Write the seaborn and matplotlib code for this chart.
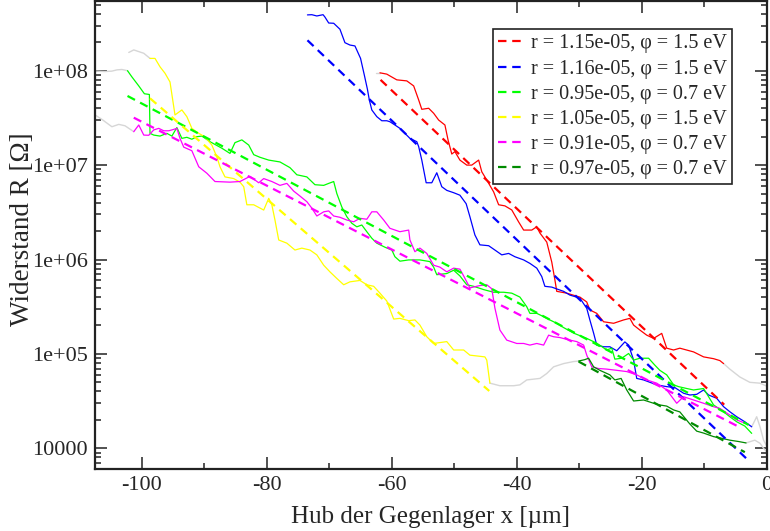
import numpy as np
import pandas as pd
import matplotlib
matplotlib.use("Agg")
import matplotlib.pyplot as plt
import seaborn as sns
from matplotlib.ticker import FixedLocator, FixedFormatter, LogLocator, NullFormatter, MultipleLocator

# ---------------- data (x in µm, R in Ohm) ----------------
red_x = [-61.9, -60.8, -60.3, -59.2, -57.6, -56.5, -55.7, -55.2, -54.1, -53.3, -52.5, -51.5, -51.0, -50.4,
         -49.9, -49.1, -48.0, -47.2, -46.1, -45.6, -44.8, -43.7, -42.9, -41.9, -40.8, -39.7, -38.9, -37.6,
         -36.8, -36.3, -35.2, -34.4, -33.9, -33.6, -32.0, -31.0, -29.9, -28.8, -28.3, -27.2, -26.1, -24.5,
         -22.9, -21.9, -21.3, -20.3, -19.2, -18.1, -16.8, -16.0, -14.9, -13.9, -11.7, -10.1, -8.5, -7.5, -6.9]
red_R = [9.5e7, 9.2e7, 8.8e7, 8.0e7, 7.8e7, 6.9e7, 4.9e7, 3.9e7, 4.0e7, 3.54e7, 3.0e7, 2.66e7, 1.85e7, 1.31e7,
         1.39e7, 1.13e7, 1.0e7, 1.0e7, 1.13e7, 8.5e6, 6.95e6, 5.2e6, 3.8e6, 3.7e6, 3.35e6, 2.5e6, 2.05e6, 2.05e6,
         2.22e6, 1.91e6, 1.53e6, 9.4e5, 6.1e5, 4.6e5, 4.4e5, 4.2e5, 4.0e5, 3.55e5, 2.92e5, 2.69e5, 2.19e5, 2.11e5,
         2.29e5, 2.38e5, 2.02e5, 1.79e5, 1.58e5, 1.46e5, 1.65e5, 1.15e5, 1.1e5, 1.15e5, 1.05e5, 9.3e4, 8.9e4, 8.5e4, 7.9e4]

blue_x = [-73.5, -72.8, -72.0, -71.0, -70.7, -70.1, -69.3, -68.3, -67.5, -66.7, -65.9, -65.0, -64.4, -63.9,
          -63.6, -63.2, -62.4, -61.6, -60.8, -60.3, -59.5, -58.7, -57.9, -57.1, -56.0, -55.7, -55.2, -54.5,
          -53.6, -52.8, -52.0, -51.2, -50.1, -49.1, -48.1, -47.5, -46.7, -45.9, -44.5, -43.5, -42.4, -41.3,
          -40.3, -38.9, -37.9, -36.8, -36.0, -35.5, -34.4, -33.3, -32.5, -31.5, -29.9, -28.8, -28.3, -27.7,
          -27.2, -26.1, -25.1, -24.0, -22.7, -22.1, -21.3, -20.8, -19.7, -17.6, -16.0, -14.7, -13.3, -12.3,
          -11.2, -10.1, -9.3, -8.0, -6.9, -5.9, -4.8, -3.5, -2.4]
blue_R = [3.9e8, 3.92e8, 3.8e8, 3.92e8, 3.7e8, 3.2e8, 3.18e8, 2.75e8, 1.98e8, 1.87e8, 1.83e8, 1.35e8, 9.0e7, 6.35e7,
          4.9e7, 3.84e7, 3.26e7, 2.95e7, 2.95e7, 2.88e7, 2.66e7, 2.45e7, 2.17e7, 1.92e7, 1.77e7, 1.57e7, 1.13e7, 6.5e6,
          6.5e6, 8.3e6, 5.9e6, 5.4e6, 5.1e6, 4.8e6, 3.9e6, 2.84e6, 1.82e6, 1.43e6, 1.4e6, 1.26e6, 1.12e6, 1.16e6,
          1.07e6, 9.9e5, 9.1e5, 8.1e5, 6.6e5, 5.2e5, 5.1e5, 4.8e5, 4.6e5, 4.2e5, 3.9e5, 3.04e5, 2.29e5, 1.66e5,
          1.24e5, 1.19e5, 1.19e5, 1.08e5, 1.34e5, 1.24e5, 8.6e4, 5.5e4, 5.3e4, 4.7e4, 4.5e4, 4.4e4, 3.83e4, 3.67e4,
          3.73e4, 4.15e4, 3.67e4, 3.39e4, 2.76e4, 2.44e4, 2.16e4, 1.91e4, 1.69e4]

green_x = [-102.3, -101.6, -100.5, -99.6, -98.8, -98.7, -98.1, -97.1, -96.0, -95.2, -94.4, -93.6, -92.8, -92.0,
           -91.2, -90.4, -89.1, -87.2, -85.9, -85.1, -84.0, -82.9, -82.1, -81.1, -79.7, -77.9, -76.3, -75.2,
           -73.6, -72.3, -70.9, -70.1, -69.3, -68.8, -68.0, -67.2, -66.4, -65.6, -64.8, -64.0, -63.2, -62.4,
           -61.1, -60.0, -59.5, -58.7, -57.3, -55.5, -53.9, -53.3, -52.8, -51.2, -50.1, -49.1, -48.0, -46.9,
           -45.3, -43.7, -42.1, -40.8, -39.5, -38.4, -37.9, -36.8, -35.7, -34.7, -33.6, -32.5, -30.9, -28.8,
           -27.2, -25.6, -24.8, -24.3, -23.2, -22.1, -21.3, -20.3, -18.9, -17.9, -17.1, -16.0, -14.9, -14.1,
           -12.8, -11.7, -10.1, -9.3, -8.5, -7.7, -6.9, -5.9, -4.8, -3.5, -2.4]
green_R = [1.0e8, 8.6e7, 6.9e7, 5.7e7, 5.6e7, 2.17e7, 2.08e7, 2.03e7, 2.17e7, 2.03e7, 2.5e7, 1.92e7, 1.97e7, 1.88e7,
           2.0e7, 2.03e7, 1.77e7, 1.51e7, 1.33e7, 1.73e7, 1.85e7, 1.63e7, 1.29e7, 1.21e7, 1.13e7, 1.08e7, 9.4e6, 7.9e6,
           7.5e6, 6.2e6, 6.1e6, 6.4e6, 6.7e6, 5.0e6, 3.6e6, 2.84e6, 2.42e6, 2.22e6, 2.32e6, 1.97e6, 1.68e6, 1.49e6,
           1.35e6, 1.26e6, 1.07e6, 9.6e5, 9.9e5, 9.9e5, 9.5e5, 8.3e5, 6.9e5, 7.1e5, 7.7e5, 6.7e5, 5.4e5, 5.2e5,
           4.8e5, 4.5e5, 4.5e5, 4.4e5, 4.0e5, 3.16e5, 2.69e5, 2.69e5, 2.48e5, 2.29e5, 2.11e5, 1.9e5, 1.66e5, 1.46e5,
           1.3e5, 1.1e5, 1.15e5, 8.8e4, 9.0e4, 1.01e5, 8.6e4, 9.0e4, 9.0e4, 7.6e4, 6.7e4, 6.0e4, 4.7e4, 4.5e4,
           4.3e4, 4.15e4, 4.3e4, 3.52e4, 2.88e4, 2.65e4, 2.44e4, 2.16e4, 1.91e4, 1.72e4, 1.44e4]

yellow_x = [-98.7, -97.9, -97.1, -96.3, -95.5, -94.7, -93.6, -92.8, -92.0, -90.9, -89.9, -88.8, -88.0, -87.5,
            -86.7, -85.3, -84.3, -83.7, -83.2, -82.1, -80.5, -79.7, -79.2, -78.7, -78.1, -76.8, -75.5, -74.4,
            -73.1, -72.0, -70.9, -69.9, -68.8, -67.7, -66.7, -65.1, -64.0, -62.9, -61.9, -60.8, -59.7, -58.7,
            -57.3, -56.3, -55.5, -54.4, -53.3, -51.2, -50.1, -48.5, -47.5, -45.1, -44.8, -44.3]
yellow_R = [1.35e8, 1.35e8, 1.1e8, 9.4e7, 7.6e7, 3.4e7, 3.84e7, 3.26e7, 2.45e7, 2.17e7, 1.99e7, 1.63e7, 1.22e7, 9.6e6,
            7.5e6, 7.2e6, 6.6e6, 5.9e6, 3.8e6, 3.8e6, 3.34e6, 4.45e6, 3.8e6, 2.62e6, 1.61e6, 1.49e6, 1.26e6, 1.32e6,
            1.26e6, 1.12e6, 8.7e5, 7.4e5, 6.3e5, 5.4e5, 5.8e5, 6.0e5, 5.4e5, 5.2e5, 4.4e5, 3.63e5, 2.34e5, 2.38e5,
            2.25e5, 2.29e5, 2.02e5, 1.52e5, 1.29e5, 1.35e5, 1.1e5, 1.1e5, 9.7e4, 9.3e4, 8.6e4, 4.9e4]

magenta_x = [-101.3, -100.5, -99.7, -98.9, -98.1, -97.3, -96.5, -95.7, -94.9, -94.4, -93.9, -93.3, -92.0, -90.9,
             -89.6, -88.3, -85.9, -84.3, -82.7, -81.3, -80.5, -79.2, -77.9, -76.8, -75.7, -74.7, -73.6, -72.8,
             -72.0, -70.9, -70.1, -69.3, -68.3, -67.2, -66.1, -65.1, -64.0, -63.2, -62.4, -61.3, -60.3, -58.7,
             -57.3, -57.1, -56.3, -55.5, -54.4, -53.3, -52.3, -51.2, -50.1, -49.1, -48.5, -47.5, -45.9, -44.8,
             -44.0, -43.5, -42.7, -41.6, -40.0, -38.9, -37.9, -36.8, -35.7, -34.9, -34.1, -33.1, -31.5, -30.4,
             -29.3, -28.8, -28.0, -26.9, -25.6, -24.0, -22.4, -20.8, -19.2, -17.6, -16.0, -14.4, -13.3, -11.7,
             -10.1, -8.5, -7.5, -5.9, -4.8, -3.5]
magenta_R = [2.26e7, 2.66e7, 2.08e7, 2.07e7, 2.36e7, 2.45e7, 2.31e7, 2.31e7, 2.39e7, 2.45e7, 1.92e7, 1.55e7, 1.42e7, 9.6e6,
             8.2e6, 6.7e6, 6.6e6, 6.7e6, 7.6e6, 6.5e6, 7.2e6, 6.7e6, 6.1e6, 6.4e6, 5.3e6, 4.7e6, 4.1e6, 3.5e6,
             2.89e6, 3.2e6, 3.27e6, 2.89e6, 2.8e6, 2.62e6, 2.51e6, 2.73e6, 2.67e6, 3.2e6, 3.2e6, 2.62e6, 2.14e6, 1.97e6,
             2.05e6, 1.61e6, 1.21e6, 1.32e6, 1.16e6, 8.7e5, 8.3e5, 7.4e5, 8.1e5, 7.9e5, 6.7e5, 5.0e5, 5.3e5, 5.4e5,
             4.9e5, 3.06e5, 1.79e5, 1.4e5, 1.29e5, 1.29e5, 1.24e5, 1.29e5, 1.24e5, 1.58e5, 1.52e5, 1.49e5, 1.4e5, 1.35e5,
             1.24e5, 9.7e4, 7.3e4, 7.0e4, 6.9e4, 6.7e4, 6.5e4, 6.0e4, 5.3e4, 4.9e4, 4.15e4, 3.0e4, 3.52e4, 3.25e4,
             3.0e4, 2.76e4, 2.65e4, 2.25e4, 2.0e4, 1.85e4]

dkgreen_x = [-30.1, -29.1, -28.5, -27.7, -26.7, -25.1, -24.3, -23.3, -22.4, -21.3, -19.7, -18.1, -17.1, -16.0,
             -14.9, -13.9, -12.3, -11.2, -10.1, -8.5, -7.5, -5.9, -4.5, -3.3]
dkgreen_R = [8.4e4, 8.7e4, 9.0e4, 7.3e4, 6.7e4, 6.0e4, 5.3e4, 5.5e4, 4.15e4, 3.17e4, 3.25e4, 3.0e4, 2.88e4, 2.8e4,
             2.55e4, 2.43e4, 1.81e4, 1.52e4, 1.45e4, 1.33e4, 1.29e4, 1.22e4, 1.18e4, 1.14e4]

# grey (unfitted) parts of the measurements
grey_segments_x = [
    [-107.5, -105.9, -104.8, -104.0, -103.2, -102.3],
    [-102.1, -101.3, -99.7, -98.7],
    [-107.5, -106.4, -104.8, -103.7, -102.7, -101.3],
    [-62.5, -61.9],
    [-44.3, -42.7, -40.5, -39.5, -38.4, -36.3, -35.2, -34.1, -32.5, -30.9, -30.1],
    [-6.9, -5.9, -4.3, -2.7, -1.1, 0.2],
    [-2.4, -1.6, -1.07, -0.5, 0.0],
    [-3.3, -1.9, -1.07, -0.5, 0.05],
]
grey_segments_R = [
    [9.9e7, 9.8e7, 9.9e7, 1.02e8, 1.03e8, 1.0e8],
    [1.56e8, 1.66e8, 1.53e8, 1.35e8],
    [3.4e7, 3.05e7, 2.55e7, 2.7e7, 2.61e7, 2.26e7],
    [9.5e7, 9.5e7],
    [4.9e4, 4.6e4, 4.6e4, 4.7e4, 5.3e4, 5.5e4, 6.2e4, 7.3e4, 7.9e4, 8.3e4, 8.4e4],
    [7.9e4, 6.9e4, 5.7e4, 5.0e4, 4.9e4, 4.5e4],
    [1.69e4, 2.16e4, 1.69e4, 1.22e4, 1.06e4],
    [1.14e4, 1.22e4, 1.13e4, 1.0e4, 9.1e3],
]

# exponential fits (straight on log axis): start and end
fit_labels = ["r = 1.15e-05, φ = 1.5 eV", "r = 1.16e-05, φ = 1.5 eV", "r = 0.95e-05, φ = 0.7 eV",
              "r = 1.05e-05, φ = 1.5 eV", "r = 0.91e-05, φ = 0.7 eV", "r = 0.97e-05, φ = 0.7 eV"]
fit_x = [[-61.8, -6.8], [-73.5, -2.7], [-102.3, -2.9], [-98.7, -44.4], [-101.3, -4.0], [-30.1, -3.5]]
fit_R = [[8.0e7, 2.9e4], [2.1e8, 7.2e3], [5.4e7, 1.77e4], [5.1e7, 4.05e4], [3.18e7, 1.63e4], [8.3e4, 9.1e3]]

colors = ["#ff0000", "#0000ff", "#00ff00", "#ffff00", "#ff00ff", "#008b00"]
grey = "#d6d6d6"

xticks = [-100, -80, -60, -40, -20, 0]
xtick_labels = ["-100", "-80", "-60", "-40", "-20", "0"]
yticks = [1e4, 1e5, 1e6, 1e7, 1e8]
ytick_labels = ["10000", "1e+05", "1e+06", "1e+07", "1e+08"]

# ---------------- style ----------------
sns.set_style("ticks")
plt.rcParams['font.family'] = ['Liberation Serif', 'DejaVu Serif']
plt.rcParams['axes.unicode_minus'] = False

fig = plt.figure(figsize=(7.7, 5.31), dpi=100)
ax = fig.add_axes([0.1234, 0.1168, 0.8723, 0.8804])


def draw(x, R, color, lw, ls="-"):
    df = pd.DataFrame({"x": x, "R": R})
    sns.lineplot(data=df, x="x", y="R", color=color, linewidth=lw, linestyle=ls,
                 estimator=None, sort=False, ax=ax)
    return ax.lines[-1]


for gx, gR in zip(grey_segments_x, grey_segments_R):
    draw(gx, gR, grey, 1.0)

solid = [(red_x, red_R), (blue_x, blue_R), (green_x, green_R),
         (yellow_x, yellow_R), (magenta_x, magenta_R), (dkgreen_x, dkgreen_R)]
for (sx, sR), c in zip(solid, colors):
    draw(sx, sR, c, 0.9)

handles = []
for fx, fR, c in zip(fit_x, fit_R, colors):
    handles.append(draw(fx, fR, c, 1.6, (0, (3.8, 2.6))))

ax.set_yscale("log")
ax.set_xlim(-107.5, 0)
ax.set_ylim(6.04e3, 5.41e8)

ax.xaxis.set_major_locator(FixedLocator(xticks))
ax.xaxis.set_major_formatter(FixedFormatter(xtick_labels))
ax.xaxis.set_minor_locator(MultipleLocator(10))
ax.yaxis.set_major_locator(FixedLocator(yticks))
ax.yaxis.set_major_formatter(FixedFormatter(ytick_labels))
ax.yaxis.set_minor_locator(LogLocator(base=10, subs=range(2, 10), numticks=20))
ax.yaxis.set_minor_formatter(NullFormatter())

ax.tick_params(which="both", direction="in", top=True, right=True, color="#222222", width=1.1)
ax.tick_params(which="major", length=8.6, labelsize=16, pad=5)
ax.tick_params(which="minor", length=4.5)
for s in ax.spines.values():
    s.set_linewidth(1.6)
    s.set_color("#222222")

ax.set_xlabel("Hub der Gegenlager x [µm]", fontsize=18, labelpad=8)
ax.set_ylabel("Widerstand R [Ω]", fontsize=19.5)
ax.yaxis.set_label_coords(-0.089, 0.513)

leg = ax.legend(handles, fit_labels, loc="upper left", bbox_to_anchor=(0.593, 0.9405),
                borderaxespad=0, fontsize=14.5, frameon=True, fancybox=False, edgecolor="#222222",
                handlelength=1.15, handletextpad=0.45, labelspacing=0.3, borderpad=0.25)
leg.get_frame().set_linewidth(1.2)
leg.get_frame().set_alpha(1)

fig.savefig("out.png", dpi=100)
